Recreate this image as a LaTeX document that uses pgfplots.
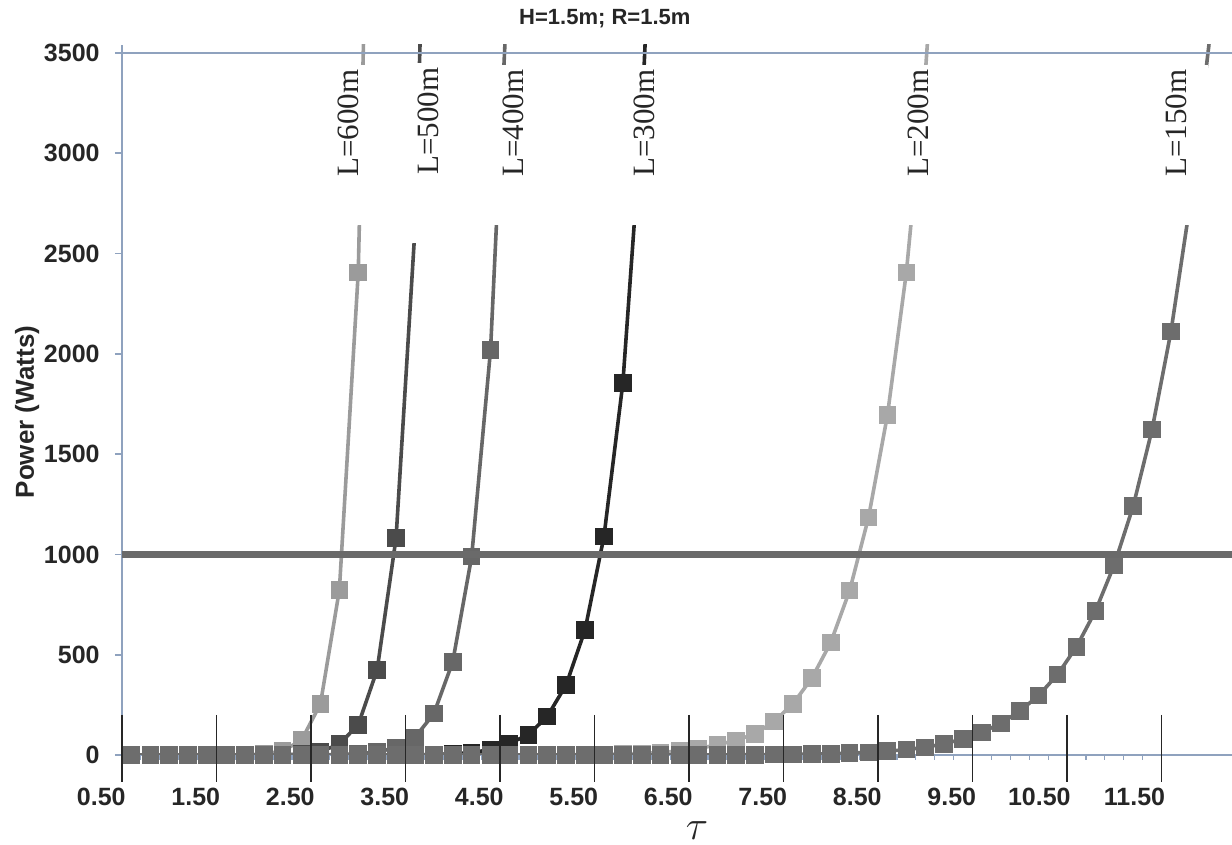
\documentclass[border=0pt]{standalone}
\usepackage{pgfplots}
\pgfplotsset{compat=1.18}
\usepackage{fontspec}
\setmainfont{Liberation Sans}
\newfontfamily\serifL{Liberation Serif}
\definecolor{axisblue}{HTML}{8FA2BE}
\definecolor{cA}{HTML}{9B9B9B}
\definecolor{cB}{HTML}{4B4B4B}
\definecolor{cC}{HTML}{676767}
\definecolor{cD}{HTML}{262626}
\definecolor{cE}{HTML}{A8A8A8}
\definecolor{cF}{HTML}{6D6D6D}
\definecolor{refline}{HTML}{6A6A6A}
\definecolor{txt}{HTML}{262626}
\tikzset{lbl/.style={rotate=90, anchor=east, fill=white, inner xsep=2pt, inner ysep=0pt, minimum height=31pt, align=right, font=\serifL\fontsize{15.5}{18}\selectfont, text=txt}}
\begin{document}
\begin{tikzpicture}
\begin{axis}[
  at={(0pt,0pt)}, anchor=south west,
  scale only axis, width=555pt, height=355pt,
  xmin=0.5, xmax=12.246, ymin=0, ymax=3540,
  clip mode=individual,
  axis x line*=bottom, axis y line*=left,
  axis line style={-, draw=axisblue, line width=0.8pt},
  xtick={0.5,1.5,2.5,3.5,4.5,5.5,6.5,7.5,8.5,9.5,10.5,11.5},
  xticklabels={0.50,1.50,2.50,3.50,4.50,5.50,6.50,7.50,8.50,9.50,10.50,11.50},
  minor x tick num=4,
  ytick={0,500,1000,1500,2000,2500,3000,3500},
  yticklabels={0,500,1000,1500,2000,2500,3000,3500},
  tick align=outside,
  major tick length=3.5pt, minor tick length=2.5pt,
  major x tick style={draw=none},
  minor x tick style={draw=axisblue, line width=0.6pt},
  ytick style={draw=axisblue, line width=0.8pt},
  tick label style={font=\bfseries\fontsize{12.5}{15}\selectfont, text=txt},
  xticklabel style={anchor=north east, inner sep=0pt, xshift=2pt, yshift=-13pt},
  yticklabel style={anchor=east, inner sep=0pt, xshift=-7.5pt},
  title={H=1.5m; R=1.5m},
  every axis title/.style={at={(rel axis cs:0.435,1.037)}, anchor=center, font=\bfseries\fontsize{11}{13}\selectfont, text=txt},
  ylabel={Power (Watts)},
  every axis y label/.style={at={(rel axis cs:-0.0855,0.483)}, rotate=90, anchor=center, font=\bfseries\fontsize{13}{15}\selectfont, text=txt},
  xlabel={$\tau$},
  every axis x label/.style={at={(rel axis cs:0.518,-0.106)}, anchor=center, inner sep=0pt, font=\fontsize{20}{22}\selectfont, text=txt},
  every axis plot/.append style={line width=1.8pt, mark=square*, mark size=3.5pt, mark options={solid}},
]
% L=600m
\addplot[color=cA, mark options={fill=cA}] coordinates {
(0.6,0)(0.8,0)(1.0,0)(1.2,0)(1.4,0.02)(1.6,0.14)(1.8,0.9)(2.0,4.5)(2.2,20)(2.4,74)(2.6,255)(2.8,822)(3.0,2406)(3.2,6540)};
% L=500m
\addplot[color=cB, mark options={fill=cB}] coordinates {
(0.6,0)(0.8,0)(1.0,0)(1.2,0)(1.4,0)(1.6,0)(1.8,0.06)(2.0,0.3)(2.2,1.3)(2.4,4.9)(2.6,17)(2.8,54)(3.0,151)(3.2,425)(3.4,1081)(3.6,2622)(3.8,6060)};
% L=400m
\addplot[color=cC, mark options={fill=cC}] coordinates {
(0.6,0)(0.8,0)(1.0,0)(1.2,0)(1.4,0)(1.6,0)(1.8,0)(2.0,0)(2.2,0)(2.4,0.15)(2.6,0.55)(2.8,1.8)(3.0,5.4)(3.2,14.6)(3.4,37)(3.6,88)(3.8,206)(4.0,465)(4.2,989)(4.4,2020)(4.6,4024)};
% L=300m
\addplot[color=cD, mark options={fill=cD}] coordinates {
(0.6,0)(0.8,0)(1.0,0)(1.2,0)(1.4,0)(1.6,0)(1.8,0)(2.0,0)(2.2,0)(2.4,0)(2.6,0)(2.8,0)(3.0,0)(3.2,0)(3.4,0.5)(3.6,1.2)(3.8,2.7)(4.0,5.9)(4.2,12.6)(4.4,26)(4.6,58)(4.8,101)(5.0,192)(5.2,350)(5.4,624)(5.6,1089)(5.8,1854)(6.0,3173)(6.2,5274)};
% L=200m
\addplot[color=cE, mark options={fill=cE}] coordinates {
(0.6,0)(0.8,0)(1.0,0)(1.2,0)(1.4,0)(1.6,0)(1.8,0)(2.0,0)(2.2,0)(2.4,0)(2.6,0)(2.8,0)(3.0,0)(3.2,0)(3.4,0)(3.6,0)(3.8,0)(4.0,0)(4.2,0)(4.4,0)(4.6,0)(4.8,0.25)(5.0,0.45)(5.2,0.8)(5.4,1.5)(5.6,2.6)(5.8,4.5)(6.0,7.5)(6.2,12.4)(6.4,20)(6.6,32)(6.8,51)(7.0,73)(7.2,106)(7.4,167)(7.6,255)(7.8,383)(8.0,561)(8.2,820)(8.4,1185)(8.6,1695)(8.8,2406)(9.0,3394)(9.2,4750)};
% L=150m
\addplot[color=cF, mark options={fill=cF}, mark indices={1,...,57}] coordinates {
(0.6,0)(0.8,0)(1.0,0)(1.2,0)(1.4,0)(1.6,0)(1.8,0)(2.0,0)(2.2,0)(2.4,0)(2.6,0)(2.8,0)(3.0,0)(3.2,0)(3.4,0)(3.6,0)(3.8,0)(4.0,0)(4.2,0)(4.4,0)(4.6,0)(4.8,0)(5.0,0)(5.2,0)(5.4,0)(5.6,0)(5.8,0)(6.0,0)(6.2,0)(6.4,0)(6.6,0.35)(6.8,0.54)(7.0,0.83)(7.2,1.3)(7.4,1.9)(7.6,2.9)(7.8,4.3)(8.0,6.3)(8.2,9.2)(8.4,13.3)(8.6,19)(8.8,27)(9.0,38)(9.2,56)(9.4,80)(9.6,113)(9.8,158)(10.0,218)(10.2,297)(10.4,401)(10.6,539)(10.8,717)(11.0,948)(11.2,1240)(11.4,1622)(11.6,2111)(11.8,2739)(12.0,3533)(12.2,4541)};
% reference line and top frame line
\addplot[color=refline, line width=3.3pt, mark=none] coordinates {(0.5,1000)(12.3,1000)};
\addplot[color=axisblue, line width=0.8pt, mark=none] coordinates {(0.5,3500)(12.3,3500)};
% long major tick lines
\pgfplotsinvokeforeach{0.5,1.5,2.5,3.5,4.5,5.5,6.5,7.5,8.5,9.5,10.5,11.5}{
  \draw[color=txt, line width=0.8pt] (axis cs:#1,200) -- (axis cs:#1,-133);
}
% series labels
\node[lbl, text width=76pt] at (axis cs:2.892,3440) {L=600m};
\node[lbl, text width=86pt] at (axis cs:3.744,3450) {L=500m};
\node[lbl, text width=76pt] at (axis cs:4.638,3440) {L=400m};
\node[lbl, text width=76pt] at (axis cs:6.024,3440) {L=300m};
\node[lbl, text width=76pt] at (axis cs:8.929,3440) {L=200m};
\node[lbl, text width=76pt] at (axis cs:11.66,3440) {L=150m};
\end{axis}
\pgfresetboundingbox
\path[use as bounding box] (-61pt,-45pt) rectangle (555pt,377.5pt);
\end{tikzpicture}
\end{document}
